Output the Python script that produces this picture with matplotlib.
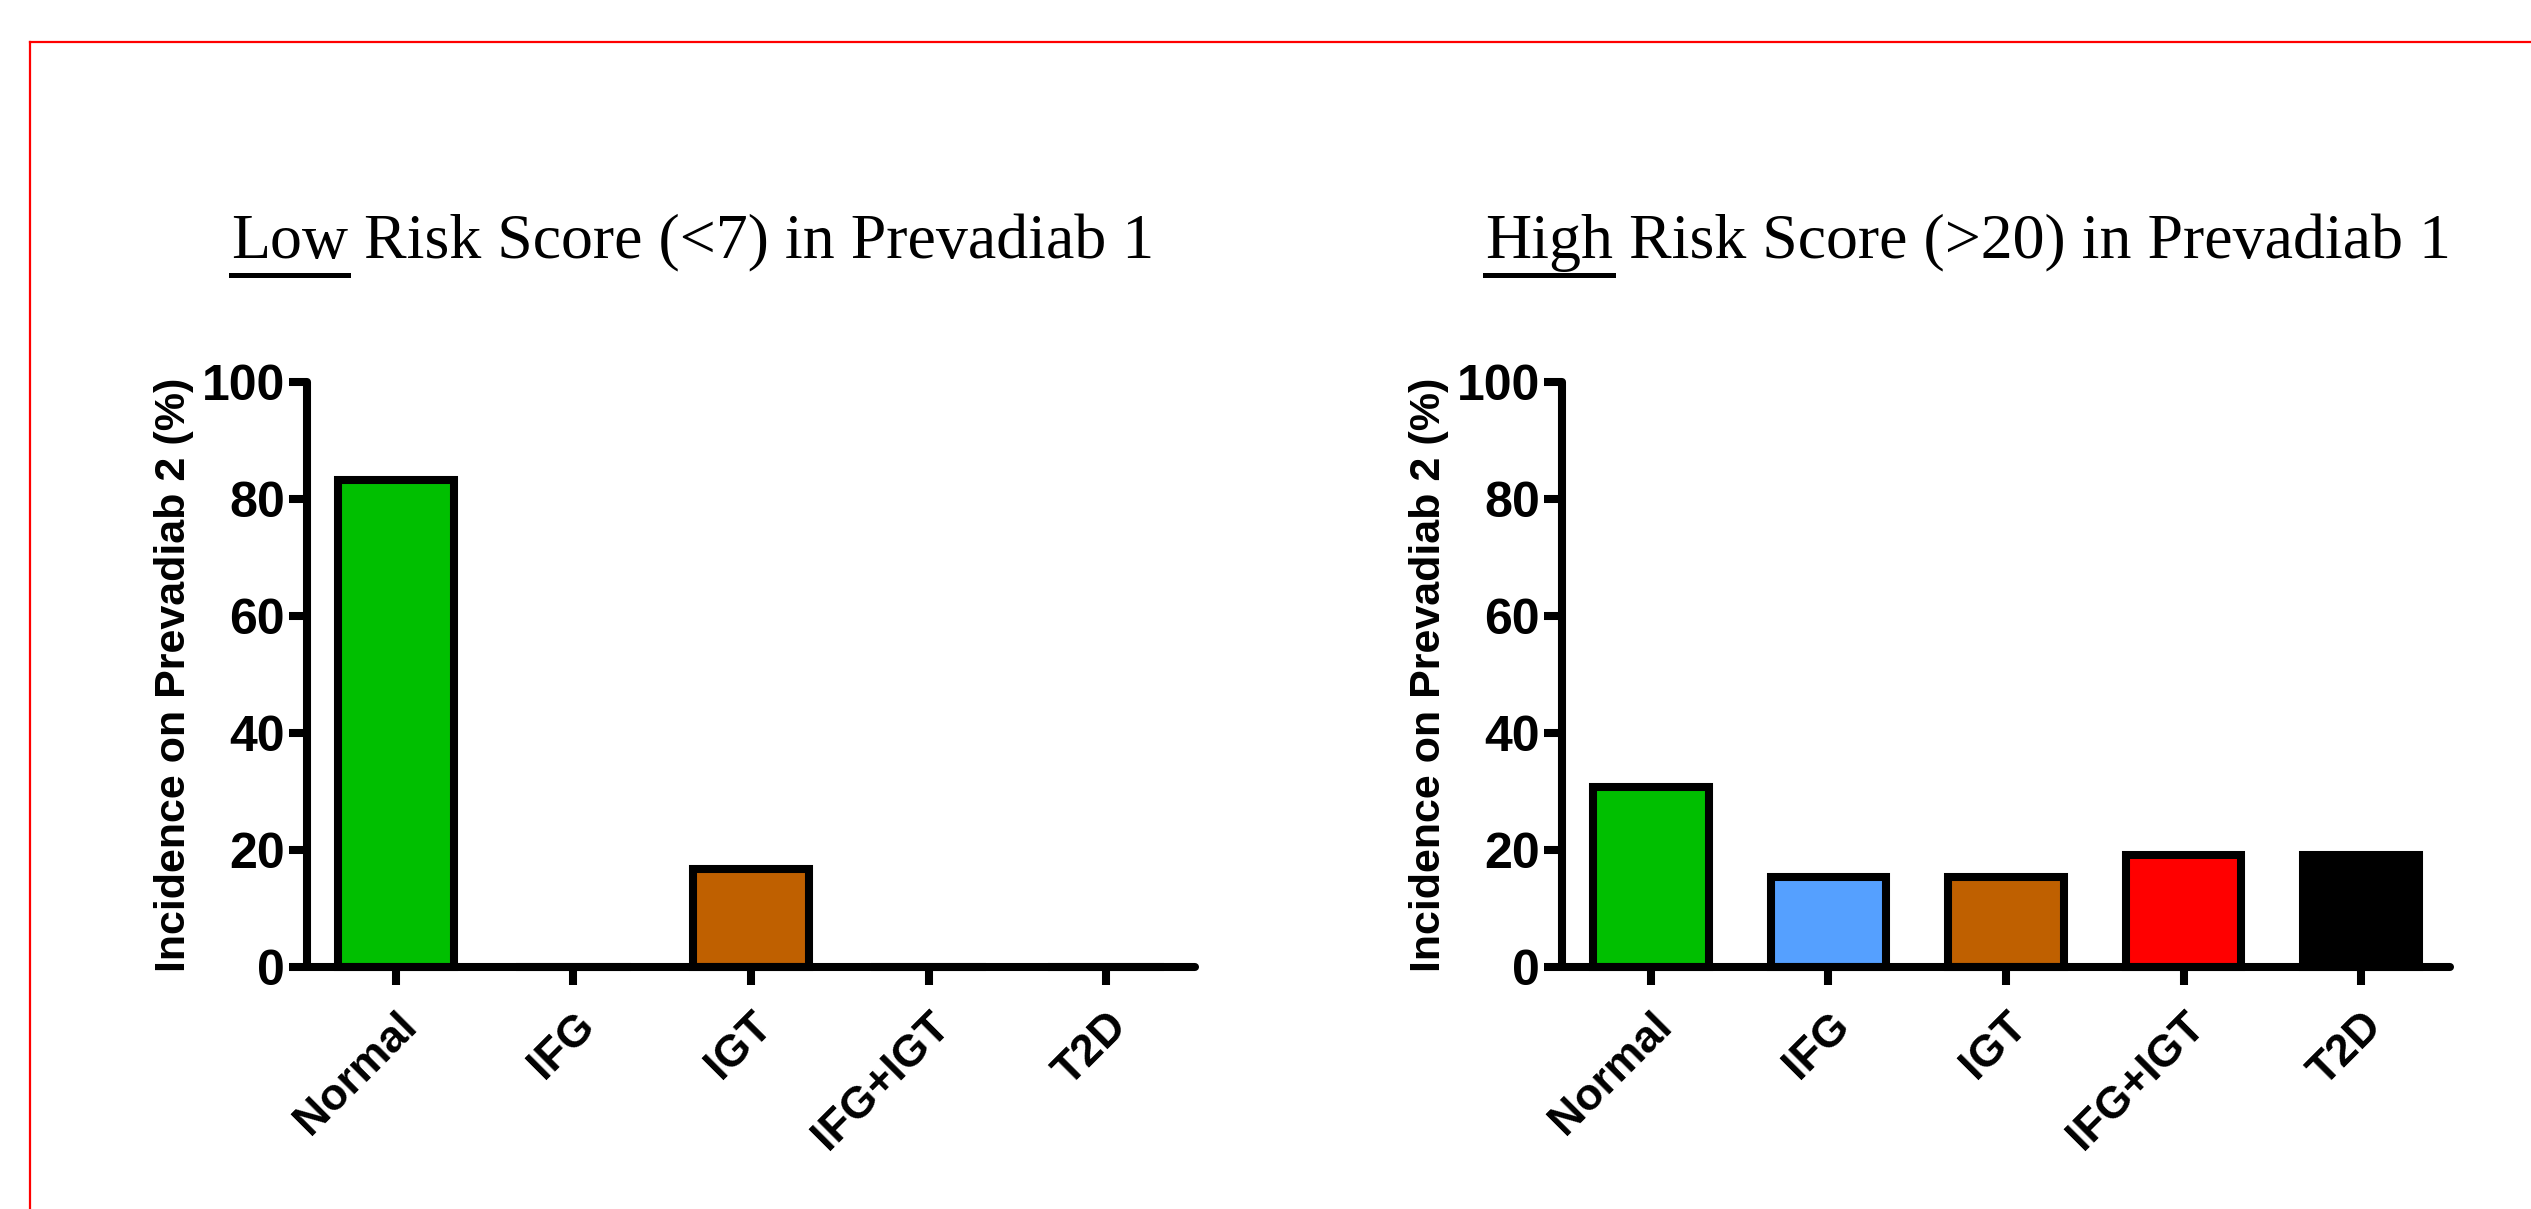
import matplotlib
matplotlib.use('Agg')
from matplotlib import pyplot as plt
from matplotlib.lines import Line2D

# data
groups = ['Normal', 'IFG', 'IGT', 'IFG+IGT', 'T2D']
colors = ['#00BF00', '#55A0FF', '#BF6000', '#FF0000', '#000000']
low_risk = [83.3, 0, 16.7, 0, 0]
high_risk = [30.8, 15.4, 15.4, 19.2, 19.2]
yticks = [0, 20, 40, 60, 80, 100]
ylabel = 'Incidence on Prevadiab 2 (%)'
titles = [('Low', ' Risk Score (<7) in Prevadiab 1'),
          ('High', ' Risk Score (>20) in Prevadiab 1')]

W, H = 2531, 1209
fig = plt.figure(figsize=(W / 100, H / 100), dpi=100)

# red frame (only left and top visible)
fig.add_artist(Line2D([30 / W, 30 / W], [0, 1 - 42 / H], color='red', lw=1.6,
                      transform=fig.transFigure))
fig.add_artist(Line2D([30 / W, 1], [1 - 42 / H, 1 - 42 / H], color='red', lw=1.6,
                      transform=fig.transFigure))

lw = 5.8
axes_left = [307, 1562]
for k, vals in enumerate([low_risk, high_risk]):
    ax = fig.add_axes([axes_left[k] / W, 1 - 967 / H, 888 / W, 585 / H])
    x = range(len(groups))
    ax.bar(x, vals, width=0.65, color=colors, edgecolor='black', linewidth=5.8, zorder=2)
    ax.set_xlim(-0.5, 4.5)
    ax.set_ylim(0, 100)
    ax.set_yticks(yticks)
    ax.set_xticks(list(x))
    ax.set_xticklabels(groups, rotation=45, ha='right', rotation_mode='anchor',
                       fontsize=32, fontweight='heavy', family='Liberation Sans')
    ax.set_yticklabels([str(t) for t in yticks], fontsize=36, fontweight='heavy',
                       family='Liberation Sans')
    for s in ['top', 'right']:
        ax.spines[s].set_visible(False)
    for s in ['left', 'bottom']:
        ax.spines[s].set_linewidth(lw)
        ax.spines[s].set_capstyle('round')
    ax.tick_params(axis='both', direction='out', length=13, width=lw, color='black')
    ax.tick_params(axis='y', pad=3)
    ax.tick_params(axis='x', pad=14)
    ax.set_ylabel(ylabel, fontsize=31, fontweight='bold', family='Liberation Sans')
    ax.yaxis.set_label_coords(-0.127, 0.5)
    for b in ax.patches:
        b.set_clip_on(False)

# titles with underlined first word
fig.canvas.draw()
r = fig.canvas.get_renderer()
title_x = [231, 1485]
base_y = 1 - 258 / H
for k, (u, rest) in enumerate(titles):
    t1 = fig.text(title_x[k] / W, base_y, u, fontsize=46, family='Liberation Serif',
                  va='baseline', ha='left')
    bb = t1.get_window_extent(r)
    t2 = fig.text(bb.x1 / W, base_y, rest, fontsize=46, family='Liberation Serif',
                  va='baseline', ha='left')
    uy = base_y - 17 / H
    fig.add_artist(Line2D([bb.x0 / W, bb.x1 / W], [uy, uy], color='black', lw=3.6,
                          transform=fig.transFigure))

fig.savefig('out.png', dpi=100)
